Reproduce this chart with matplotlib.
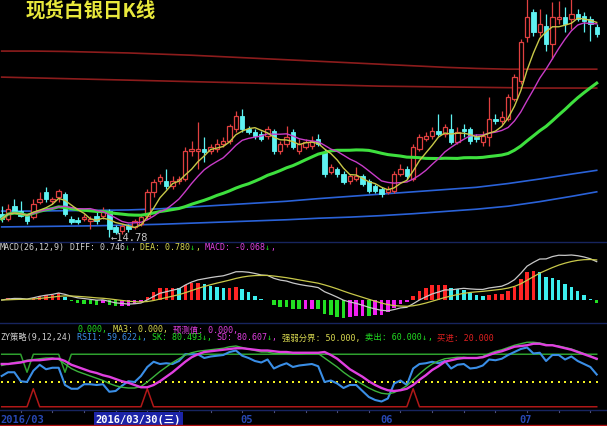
import numpy as np
import pandas as pd
import matplotlib
matplotlib.use("Agg")
import matplotlib.pyplot as plt
from matplotlib.patches import Rectangle

W, H = 607, 427

# ---------------- data (daily candles) ----------------
opens = [15.39, 15.26, 15.60, 15.47, 15.34, 15.31, 15.71, 15.98, 15.74, 15.84,
         15.92, 15.26, 15.23, 15.26, 15.21, 15.34, 15.34, 15.47, 15.05, 14.94,
         15.07, 15.05, 15.13, 15.34, 15.98, 16.27, 16.27, 16.13, 16.27, 16.32,
         17.06, 17.06, 17.12, 17.06, 17.12, 17.25, 17.33, 17.65, 17.99, 17.65,
         17.57, 17.51, 17.46, 17.59, 17.06, 17.25, 17.57, 17.06, 17.17, 17.20,
         17.38, 17.04, 16.51, 16.59, 16.45, 16.27, 16.32, 16.40, 16.27, 16.13,
         16.06, 15.98, 16.00, 16.45, 16.59, 16.32, 17.12, 17.38, 17.46, 17.59,
         17.51, 17.65, 17.30, 17.65, 17.65, 17.43, 17.30, 17.43, 17.91, 17.86,
         17.91, 18.44, 18.92, 20.08, 20.75, 20.22, 20.37, 19.90, 20.56, 20.61,
         20.56, 20.69, 20.64, 20.56, 20.35]
highs = [15.60, 15.66, 15.79, 15.74, 15.39, 15.79, 15.98, 16.11, 15.84, 16.06,
         15.98, 15.34, 15.31, 15.39, 15.34, 15.45, 15.58, 15.52, 15.10, 15.13,
         15.13, 15.26, 15.39, 16.06, 16.32, 16.45, 16.59, 16.40, 16.40, 17.17,
         17.33, 17.83, 17.43, 17.25, 17.38, 17.43, 17.78, 18.12, 18.17, 17.73,
         17.65, 17.59, 17.73, 17.65, 17.33, 17.73, 17.65, 17.38, 17.38, 17.46,
         17.51, 17.12, 16.72, 16.64, 16.53, 16.45, 16.64, 16.45, 16.32, 16.19,
         16.11, 16.13, 16.53, 16.72, 16.66, 17.25, 17.51, 17.57, 17.70, 18.04,
         17.78, 18.04, 17.70, 17.78, 17.70, 17.51, 17.59, 18.49, 18.04, 18.12,
         18.57, 19.10, 20.03, 21.09, 20.83, 20.83, 20.69, 21.01, 21.04, 20.88,
         21.09, 20.83, 20.75, 20.64, 20.43]
lows = [15.18, 15.21, 15.45, 15.31, 15.13, 15.26, 15.66, 15.71, 15.66, 15.71,
        15.34, 15.13, 15.13, 15.21, 14.99, 15.13, 15.26, 14.78, 14.86, 14.86,
        14.92, 14.99, 15.07, 15.26, 15.84, 16.19, 16.06, 16.06, 16.19, 16.27,
        16.93, 16.59, 16.77, 16.98, 17.04, 17.17, 17.25, 17.57, 17.57, 17.51,
        17.38, 17.33, 17.38, 16.98, 16.98, 17.17, 17.12, 16.98, 17.12, 17.12,
        17.20, 16.37, 16.45, 16.37, 16.19, 16.19, 16.27, 16.13, 15.95, 15.95,
        15.84, 15.92, 15.95, 16.40, 16.32, 16.27, 17.06, 17.33, 17.38, 17.46,
        17.43, 17.25, 17.25, 17.43, 17.25, 17.30, 17.20, 17.20, 17.78, 17.78,
        17.86, 18.39, 18.84, 19.95, 20.11, 20.11, 19.71, 19.50, 20.43, 20.22,
        20.30, 20.51, 20.22, 19.98, 20.08]
closes = [15.26, 15.52, 15.47, 15.34, 15.21, 15.66, 15.79, 15.79, 15.79, 16.00,
          15.39, 15.18, 15.18, 15.31, 15.26, 15.21, 15.45, 14.99, 14.92, 15.07,
          14.99, 15.21, 15.31, 15.98, 16.24, 16.37, 16.13, 16.27, 16.32, 17.06,
          17.12, 17.12, 17.04, 17.17, 17.25, 17.33, 17.73, 17.99, 17.65, 17.57,
          17.46, 17.38, 17.65, 17.06, 17.25, 17.43, 17.17, 17.25, 17.30, 17.33,
          17.25, 16.45, 16.64, 16.45, 16.24, 16.40, 16.40, 16.19, 16.00, 16.00,
          15.92, 16.06, 16.45, 16.59, 16.40, 17.17, 17.43, 17.46, 17.59, 17.51,
          17.70, 17.30, 17.57, 17.59, 17.33, 17.38, 17.46, 17.91, 17.86, 17.96,
          18.49, 19.02, 19.95, 20.61, 20.22, 20.43, 19.90, 20.61, 20.61, 20.43,
          20.69, 20.56, 20.51, 20.43, 20.16]

# long-term lines, sampled weekly (candle index -> value)
long_idx = [0, 5, 10, 15, 20, 25, 30, 35, 40, 45, 50, 55, 60, 65, 70, 75, 80, 85, 90, 94]
blue_upper = [15.47, 15.47, 15.48, 15.49, 15.50, 15.53, 15.58, 15.63, 15.68, 15.73,
              15.80, 15.86, 15.92, 15.98, 16.04, 16.10, 16.20, 16.32, 16.45, 16.55]
blue_lower = [15.05, 15.06, 15.07, 15.08, 15.10, 15.12, 15.15, 15.18, 15.21, 15.24,
              15.28, 15.31, 15.35, 15.40, 15.46, 15.52, 15.60, 15.72, 15.86, 15.98]
red_upper = [19.71, 19.71, 19.70, 19.68, 19.66, 19.63, 19.60, 19.56, 19.52, 19.48,
             19.44, 19.40, 19.36, 19.32, 19.28, 19.25, 19.23, 19.23, 19.23, 19.23]
red_lower = [19.02, 19.00, 18.98, 18.96, 18.94, 18.92, 18.90, 18.88, 18.86, 18.84,
             18.82, 18.80, 18.78, 18.77, 18.76, 18.75, 18.74, 18.73, 18.73, 18.73]

# ZY strategy panel
rsi = [58, 63, 63, 51, 50, 65, 73, 67, 69, 69, 46, 41, 41, 47, 47, 46, 47, 37, 38, 45,
       51, 50, 58, 70, 77, 74, 75, 74, 78, 87, 87, 87,
       82, 84, 85, 86, 90, 92, 85, 82, 78, 76, 80, 68, 72, 75, 70, 72, 73, 74,
       71, 50, 52, 48, 42, 46, 46, 38, 30, 26, 24, 28, 48, 52, 46, 68, 74, 75, 77, 75,
       78, 68, 73, 74, 68, 69, 72, 80, 79, 81, 86, 90, 94, 96, 88, 89, 78, 86, 86, 80,
       84, 78, 74, 70, 60]
sk = [72, 74, 76, 77, 79, 80, 81, 82, 82, 80, 74, 68, 64, 61, 58, 55, 52, 48, 45, 43,
      42, 42, 44, 50, 57, 64, 70, 76, 81, 86, 89, 91, 92, 93, 94, 95, 97, 98, 96, 94,
      92, 90, 90, 88, 88, 88, 87, 87, 88, 88, 88, 82, 76, 70, 63, 57, 52, 47, 42, 38,
      35, 34, 36, 40, 45, 53, 61, 68, 74, 78, 81, 82, 83, 83, 82, 82, 84, 88, 91, 93,
      96, 99, 101, 103, 103, 102, 100, 99, 98, 96, 94, 91, 88, 85, 80]
sd = [74, 74, 75, 76, 78, 79, 79, 80, 81, 81, 78, 73, 70, 67, 64, 62, 59, 57, 54, 51,
      49, 46, 43, 43, 46, 51, 57, 63, 70, 77, 83, 87, 90, 91, 92, 93, 94, 95, 95, 94,
      93, 92, 92, 91, 90, 90, 89, 89, 89, 89, 89, 90, 86, 81, 74, 67, 62, 57, 51, 46,
      42, 39, 38, 39, 41, 46, 53, 59, 66, 71, 77, 79, 81, 82, 82, 82, 83, 86, 89, 91,
      94, 97, 98, 99, 101, 101, 99, 99, 97, 95, 93, 90, 87, 84, 81]
strength_level = 50
sell_base, sell_dip = 87, 63
sell_dip_idx = [4, 10]
buy_base, buy_peak = 17, 41
buy_peak_idx = [5, 23, 65]

date_labels = ["2016/03", "05", "06", "07"]
date_label_idx = [0, 38, 60, 82]
cursor_label = "2016/03/30(三)"
cursor_idx = 15

# ---------------- figure ----------------
n = len(closes)
x = np.arange(n)
XL = (-1.7 / 6.33, (W - 1.7) / 6.33)
FAM = ['DejaVu Sans Mono', 'Noto Sans CJK SC']

fig = plt.figure(figsize=(W / 100, H / 100), dpi=100, facecolor='black')


def add_ax(top, bottom):
    ax = fig.add_axes([0, 1 - bottom / H, 1, (bottom - top) / H])
    ax.set_facecolor('black')
    ax.set_axis_off()
    ax.set_xlim(*XL)
    return ax


# main price panel
ax = add_ax(0, 243)
ax.set_ylim(21.09 - 0.0265 * 243, 21.09)
ax.plot(long_idx, blue_upper, color='#2a62d8', lw=1.2)
ax.plot(long_idx, blue_lower, color='#2a62d8', lw=1.2)
ax.plot(long_idx, red_upper, color='#8c1c1c', lw=1.2)
ax.plot(long_idx, red_lower, color='#8c1c1c', lw=1.2)

cs = pd.Series(closes)
ma5 = cs.rolling(5, min_periods=1).mean()
ma10 = cs.rolling(10, min_periods=1).mean()
ma30 = cs.rolling(30, min_periods=1).mean()

UP, DN = '#e04040', '#5ef2f2'
bw = 0.7
for i in range(n):
    o, h, l, c = opens[i], highs[i], lows[i], closes[i]
    if c >= o:
        ax.plot([i, i], [l, o], color=UP, lw=0.9, solid_capstyle='butt')
        ax.plot([i, i], [c, h], color=UP, lw=0.9, solid_capstyle='butt')
        ax.add_patch(Rectangle((i - bw / 2, o), bw, max(c - o, 0.004),
                               facecolor='black', edgecolor=UP, lw=0.9, zorder=3))
    else:
        ax.plot([i, i], [l, h], color=DN, lw=0.9, solid_capstyle='butt')
        ax.add_patch(Rectangle((i - bw / 2, c), bw, o - c,
                               facecolor=DN, edgecolor=DN, lw=0.6, zorder=3))

ax.plot(x, ma30, color='#3ee03e', lw=2.2, zorder=4)
ax.plot(x, ma10, color='#c83cc8', lw=1.0, zorder=5)
ax.plot(x, ma5, color='#c8c848', lw=1.0, zorder=6)

imin = int(np.argmin(lows))
ax.text(imin + 0.2, lows[imin], '\u2190%.2f' % lows[imin], color='#c8c8c8',
        fontsize=7.5, family=FAM, va='center', ha='left', zorder=7)

# MACD panel
ax2 = add_ax(243, 324)
e12 = cs.ewm(span=12, adjust=False).mean()
e26 = cs.ewm(span=26, adjust=False).mean()
diff = e12 - e26
dea = diff.ewm(span=9, adjust=False).mean()
hist = 2 * (diff - dea)
s = diff.max() / (301 - 256)
ax2.set_ylim(-(324 - 301) * s, (301 - 243) * s)
cols = []
for i in range(n):
    hv = hist[i]
    pv = hist[i - 1] if i > 0 else 0
    if hv >= 0:
        cols.append('#ff2424' if hv >= pv else '#3ceeee')
    else:
        cols.append('#22e022' if hv <= pv else '#f020f0')
ax2.bar(x, hist, width=0.55, color=cols)
ax2.plot(x, diff, color='#c8c8c8', lw=0.9)
ax2.plot(x, dea, color='#c8c84a', lw=0.9)

# ZY strategy panel
ax3 = add_ax(324, 411)
ax3.set_ylim((420.5 - 411) / 0.75, (420.5 - 324) / 0.75)
sell_line = [sell_dip if i in sell_dip_idx else sell_base for i in range(n)]
buy_line = [buy_peak if i in buy_peak_idx else buy_base for i in range(n)]
ax3.plot(x, sell_line, color='#2ea02e', lw=1.1)
ax3.plot(x, buy_line, color='#b01818', lw=1.1)
ax3.scatter(x, [strength_level] * n, s=4, marker='s', color='#f0f020', lw=0)
ax3.plot(x, rsi, color='#3a8ee6', lw=1.5)
ax3.plot(x, sk, color='#3cb43c', lw=1.0)
ax3.plot(x, sd, color='#e040e0', lw=1.7)

# date strip
ax4 = add_ax(411, 427)
ax4.set_ylim(0, 16)
for i in range(3, n, 5):
    ax4.plot([i, i], [14, 16], color='#50507a', lw=0.8)
for lab, i in zip(date_labels, date_label_idx):
    ax4.text(i - 0.25, 7, lab, color='#2848b4', fontsize=7.5, family=FAM,
             weight='bold', va='center', ha='left')
ax4.text(cursor_idx - 0.15, 7, cursor_label, color='white', fontsize=7.5,
         family=FAM, weight='bold', va='center', ha='left',
         bbox=dict(boxstyle='square,pad=0.15', fc='#1c24a8', ec='none'))

# separators
for yy, c in [(243, '#17245e'), (324, '#17245e'), (411, '#17245e'), (426, '#b01010')]:
    fig.add_artist(plt.Line2D([0, 1], [1 - yy / H, 1 - yy / H], color=c, lw=1.0))

# texts
fig.text(26 / W, 1 - 11 / H, '现货白银日K线', color='#e8e83c', fontsize=14,
         family=['Noto Sans CJK SC', 'DejaVu Sans'], weight='bold', va='center')

renderer = fig.canvas.get_renderer()


def seq_text(x0, y0, parts, size=6.0):
    xx = x0
    for st, c in parts:
        t = fig.text(xx / W, 1 - y0 / H, st, color=c, fontsize=size, family=FAM,
                     va='center', ha='left')
        xx += t.get_window_extent(renderer=renderer).width


GR = '#22dd22'
seq_text(0, 248, [('MACD(26,12,9)', '#d0d0d0'), (' DIFF: 0.746', '#d0d0d0'), ('\u2193', GR),
                  (',', '#d0d0d0'), (' DEA: 0.780', '#d8d850'), ('\u2193', GR), (',', '#d8d850'),
                  (' MACD: -0.068', '#e040e0'), ('\u2193', GR), (',', '#e040e0')])
seq_text(78, 330, [('0.000,', GR), (' MA3: 0.000,', '#d8d850'), (' 预测值: 0.000,', '#e040e0')])
seq_text(0, 338, [('ZY策略(9,12,24)', '#d0d0d0'), (' RSI1: 59.622', '#3a8ee6'), ('\u2193', GR),
                  (',', '#3a8ee6'), (' SK: 80.493', GR), ('\u2193', GR), (',', GR),
                  (' SD: 80.607', '#e040e0'), ('\u2193', GR), (',', '#e040e0'),
                  (' 强弱分界: 50.000,', '#d8d850'), (' 卖出: 60.000', GR), ('\u2193', GR),
                  (',', GR), (' 买进: 20.000', '#e02020')])

fig.savefig('out.png', dpi=100, facecolor='black')
